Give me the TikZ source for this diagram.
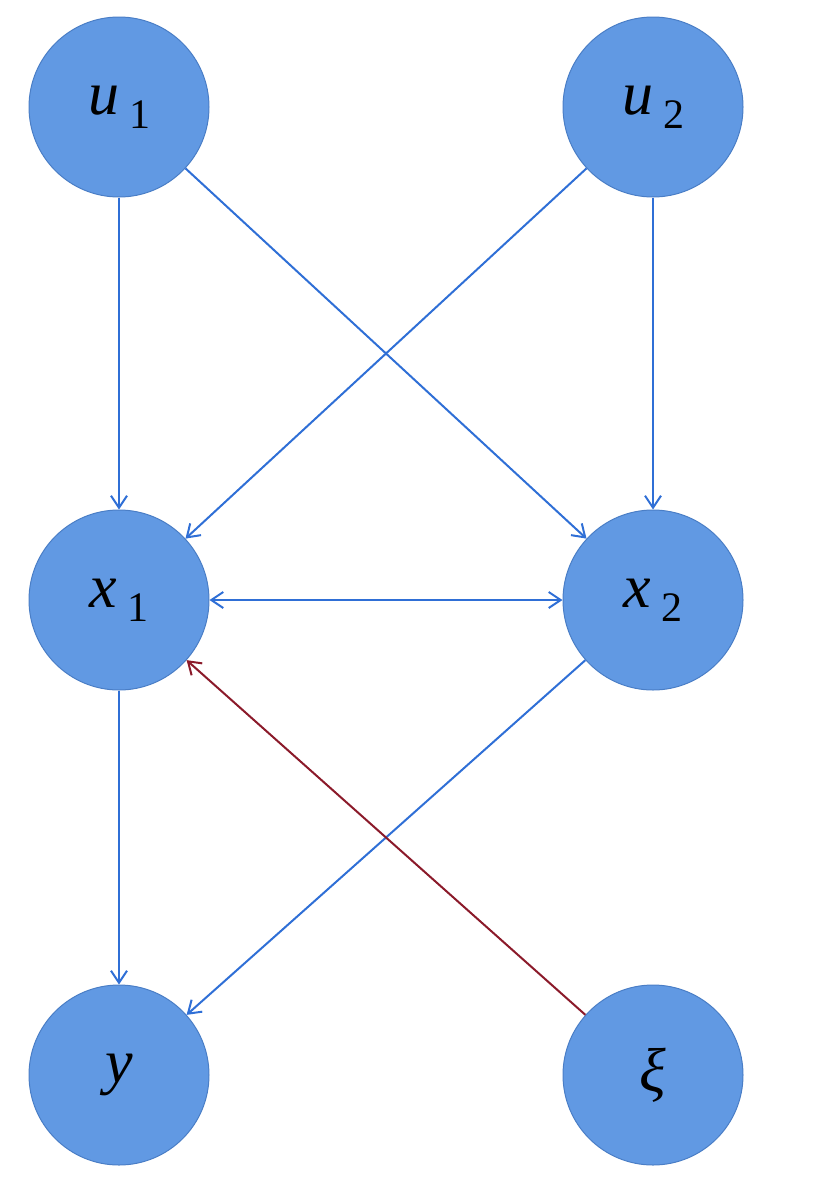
\documentclass[tikz,border=0pt]{standalone}
\usepackage{fontspec}
\setmainfont{Liberation Serif}
\usetikzlibrary{arrows.meta}
\definecolor{nfill}{HTML}{6199E3}
\definecolor{ndraw}{HTML}{4A7EC6}
\definecolor{eblue}{HTML}{2F6FD6}
\definecolor{ered}{HTML}{8B1A2A}
\begin{document}
\begin{tikzpicture}[x=1pt,y=-1pt,
  nd/.style={circle,fill=nfill,draw=ndraw,line width=1pt,minimum size=180pt,inner sep=0pt},
  e/.style={draw=eblue,line width=2pt,-{Straight Barb[length=12pt,width=16pt]}},
  er/.style={draw=ered,line width=2pt,-{Straight Barb[length=12pt,width=16pt]}}]
\useasboundingbox (0,0) rectangle (817,1202);
\newcommand{\lab}[2]{{\fontsize{62}{62}\selectfont\textit{#1}\hspace{10pt}\raisebox{-14pt}{\fontsize{42}{42}\selectfont #2}}}
\node[nd] (u1) at (119,107) {\lab{u}{1}};
\node[nd] (u2) at (653,107) {\lab{u}{2}};
\node[nd] (x1) at (119,600) {\lab{x}{1}};
\node[nd] (x2) at (653,600) {\lab{x}{2}};
\node[nd] (y) at (119,1075) {\fontsize{62}{62}\selectfont\textit{y}};
\node[nd] (xi) at (653,1075) {\fontsize{62}{62}\selectfont\textit{ξ}};
\draw[e] (u1) -- (x1);
\draw[e] (u1) -- (x2);
\draw[e] (u2) -- (x1);
\draw[e] (u2) -- (x2);
\draw[e,{Straight Barb[length=12pt,width=16pt]}-{Straight Barb[length=12pt,width=16pt]}] (x1) -- (x2);
\draw[e] (x1) -- (y);
\draw[e] (x2) -- (y);
\draw[er] (xi) -- (x1);
\end{tikzpicture}
\end{document}
